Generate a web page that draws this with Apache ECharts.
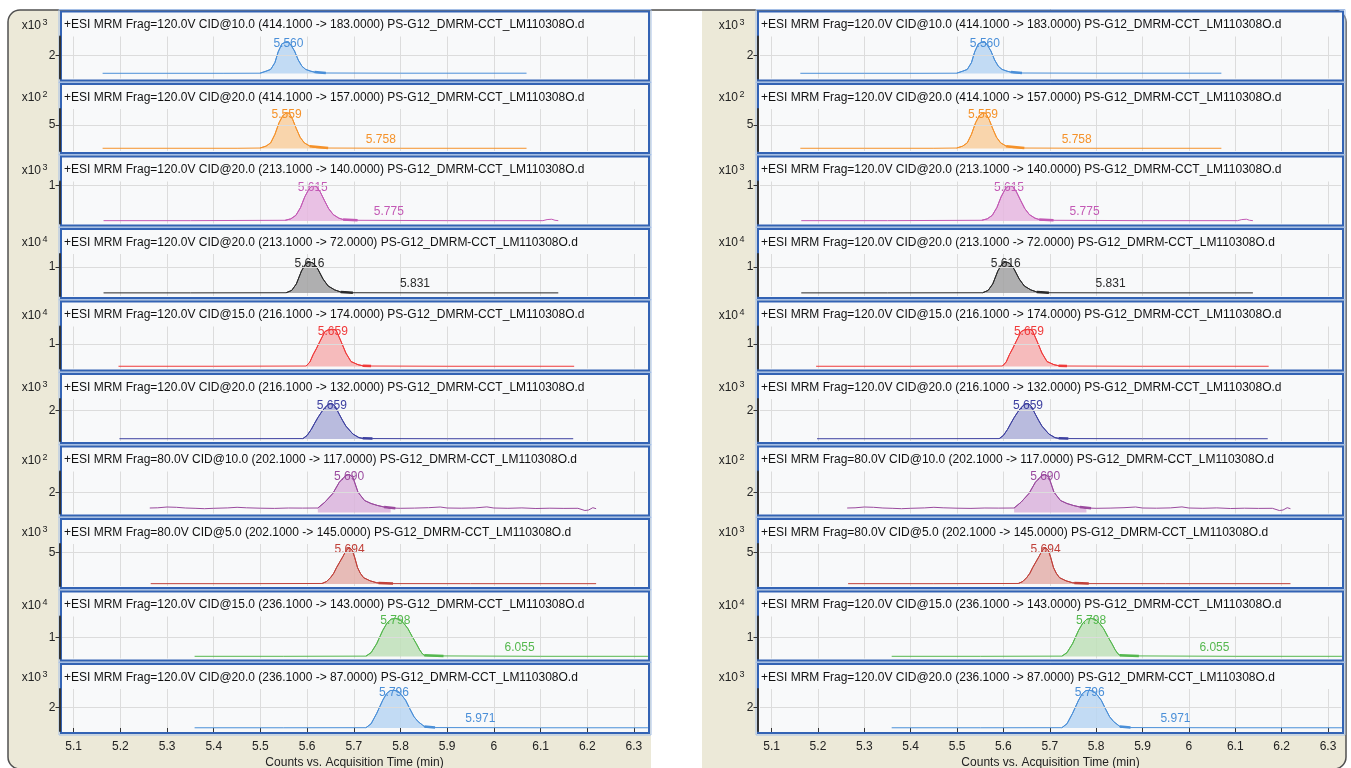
<!DOCTYPE html>
<html>
<head>
<meta charset="utf-8">
<title>MRM chromatograms</title>
<script src="https://cdn.jsdelivr.net/npm/echarts@6/dist/echarts.min.js"></script>
<style>
html, body { margin: 0; padding: 0; background: #fff; }
#main { width: 1351px; height: 768px; }
</style>
</head>
<body>
<div id="main"></div>
<script>
'use strict';

// x axis ticks (min)
var xTicks = [5.1, 5.2, 5.3, 5.4, 5.5, 5.6, 5.7, 5.8, 5.9, 6, 6.1, 6.2, 6.3];

var titles = [
    '+ESI MRM Frag=120.0V CID@10.0 (414.1000 -> 183.0000) PS-G12_DMRM-CCT_LM110308O.d',
    '+ESI MRM Frag=120.0V CID@20.0 (414.1000 -> 157.0000) PS-G12_DMRM-CCT_LM110308O.d',
    '+ESI MRM Frag=120.0V CID@20.0 (213.1000 -> 140.0000) PS-G12_DMRM-CCT_LM110308O.d',
    '+ESI MRM Frag=120.0V CID@20.0 (213.1000 -> 72.0000) PS-G12_DMRM-CCT_LM110308O.d',
    '+ESI MRM Frag=120.0V CID@15.0 (216.1000 -> 174.0000) PS-G12_DMRM-CCT_LM110308O.d',
    '+ESI MRM Frag=120.0V CID@20.0 (216.1000 -> 132.0000) PS-G12_DMRM-CCT_LM110308O.d',
    '+ESI MRM Frag=80.0V CID@10.0 (202.1000 -> 117.0000) PS-G12_DMRM-CCT_LM110308O.d',
    '+ESI MRM Frag=80.0V CID@5.0 (202.1000 -> 145.0000) PS-G12_DMRM-CCT_LM110308O.d',
    '+ESI MRM Frag=120.0V CID@15.0 (236.1000 -> 143.0000) PS-G12_DMRM-CCT_LM110308O.d',
    '+ESI MRM Frag=120.0V CID@20.0 (236.1000 -> 87.0000) PS-G12_DMRM-CCT_LM110308O.d'
];

// counts multiplier (x10^n) and the one labelled y tick of every trace
var exps = [3, 2, 3, 4, 4, 3, 2, 3, 4, 3];
var yTicks = [2, 5, 1, 1, 1, 2, 2, 5, 1, 2];

var peakRTs = ['5.560', '5.559', '5.615', '5.616', '5.659', '5.659', '5.690', '5.694', '5.798', '5.796'];
var minorRTs = [null, 5.758, 5.775, 5.831, null, null, null, null, 6.055, 5.971];

// [time (min), counts / 10^n]
var mrm1 = [[5.162,0.02],[5.300,0.02],[5.420,0.02],[5.499,0.03],[5.512,0.25],[5.522,0.45],[5.531,1.2],[5.538,2.4],[5.546,3.3],[5.553,3.45],[5.560,3.5],[5.566,3.1],[5.573,2.5],[5.581,1.5],[5.589,0.8],[5.597,0.45],[5.608,0.25],[5.620,0.1],[5.640,0.05],[5.800,0.03],[6.070,0.03]];
var mrm2 = [[5.162,0.05],[5.300,0.05],[5.450,0.05],[5.499,0.1],[5.512,0.5],[5.522,1.2],[5.531,3.0],[5.540,5.5],[5.548,7.0],[5.556,7.6],[5.562,7.5],[5.569,6.2],[5.577,4.2],[5.585,2.4],[5.594,1.2],[5.606,0.5],[5.620,0.2],[5.645,0.1],[5.800,0.05],[6.070,0.05]];
var mrm3 = [[5.164,0.01],[5.350,0.01],[5.553,0.02],[5.565,0.06],[5.576,0.16],[5.586,0.38],[5.595,0.68],[5.604,0.9],[5.612,1.0],[5.620,0.97],[5.628,0.82],[5.637,0.58],[5.646,0.35],[5.656,0.18],[5.668,0.08],[5.680,0.03],[5.708,0.02],[5.900,0.01],[6.105,0.01],[6.114,0.04],[6.124,0.05],[6.131,0.02],[6.138,0.01]];
var mrm4 = [[5.164,0.005],[5.350,0.005],[5.555,0.01],[5.567,0.1],[5.577,0.35],[5.588,0.85],[5.597,1.12],[5.605,1.2],[5.613,1.15],[5.623,0.92],[5.634,0.54],[5.645,0.27],[5.659,0.12],[5.672,0.04],[5.698,0.01],[5.900,0.005],[6.138,0.005]];
var mrm5 = [[5.196,0.01],[5.400,0.01],[5.598,0.02],[5.606,0.2],[5.613,0.53],[5.620,0.8],[5.627,1.1],[5.638,1.55],[5.646,1.64],[5.655,1.66],[5.662,1.62],[5.673,1.1],[5.683,0.6],[5.694,0.22],[5.709,0.08],[5.720,0.03],[5.737,0.02],[5.900,0.01],[6.172,0.01]];
var mrm6 = [[5.198,0.02],[5.400,0.02],[5.591,0.03],[5.600,0.25],[5.609,0.68],[5.616,1.1],[5.623,1.5],[5.631,1.9],[5.638,2.2],[5.646,2.45],[5.653,2.5],[5.660,2.3],[5.669,1.73],[5.676,1.3],[5.683,0.91],[5.698,0.35],[5.711,0.1],[5.720,0.04],[5.740,0.03],[5.900,0.02],[6.170,0.02]];
var mrm7 = [[5.263,0.45],[5.280,0.47],[5.300,0.55],[5.320,0.52],[5.340,0.45],[5.360,0.42],[5.380,0.38],[5.400,0.42],[5.430,0.46],[5.450,0.52],[5.470,0.47],[5.500,0.43],[5.530,0.41],[5.560,0.45],[5.590,0.44],[5.623,0.45],[5.638,1.03],[5.655,1.9],[5.669,3.03],[5.683,3.7],[5.690,3.82],[5.698,3.53],[5.709,2.03],[5.723,1.2],[5.737,0.9],[5.751,0.7],[5.765,0.55],[5.779,0.45],[5.800,0.42],[5.830,0.44],[5.860,0.48],[5.885,0.55],[5.900,0.45],[5.930,0.43],[5.960,0.46],[5.985,0.56],[6.000,0.45],[6.030,0.42],[6.060,0.46],[6.090,0.40],[6.120,0.43],[6.150,0.41],[6.180,0.42],[6.195,0.2],[6.203,0.25],[6.212,0.48],[6.219,0.38]];
var mrm8 = [[5.265,0.05],[5.450,0.05],[5.632,0.08],[5.642,0.4],[5.650,1.0],[5.657,1.7],[5.663,2.6],[5.670,3.5],[5.677,4.4],[5.684,5.4],[5.691,5.8],[5.697,5.3],[5.702,4.2],[5.708,2.6],[5.714,1.7],[5.721,1.0],[5.735,0.5],[5.749,0.2],[5.765,0.08],[5.784,0.06],[5.950,0.05],[6.219,0.05]];
var mrm9 = [[5.359,0.01],[5.550,0.01],[5.726,0.02],[5.737,0.2],[5.749,0.67],[5.762,1.37],[5.771,1.75],[5.780,1.96],[5.789,2.0],[5.798,1.95],[5.807,1.75],[5.816,1.46],[5.825,1.05],[5.834,0.67],[5.841,0.35],[5.847,0.14],[5.852,0.05],[5.892,0.03],[6.100,0.01],[6.330,0.01]];
var mrm10 = [[5.359,0.02],[5.550,0.02],[5.726,0.03],[5.737,0.4],[5.749,1.4],[5.762,2.67],[5.770,3.3],[5.778,3.6],[5.786,3.62],[5.794,3.55],[5.802,3.2],[5.811,2.67],[5.820,1.85],[5.829,1.08],[5.838,0.6],[5.847,0.29],[5.853,0.08],[5.874,0.04],[6.100,0.02],[6.330,0.02]];
var traces = [mrm1, mrm2, mrm3, mrm4, mrm5, mrm6, mrm7, mrm8, mrm9, mrm10];

// integrated peak region and the integration-end marker
var peakSpans = [[5.499,5.640],[5.499,5.645],[5.553,5.708],[5.555,5.698],[5.598,5.737],[5.591,5.740],[5.623,5.779],[5.632,5.784],[5.726,5.892],[5.726,5.874]];
var integEnds = [[5.616,5.640],[5.606,5.645],[5.677,5.708],[5.672,5.698],[5.719,5.737],[5.719,5.740],[5.765,5.789],[5.753,5.784],[5.851,5.892],[5.851,5.874]];

var lineColors = ['#4a8fd8', '#f5922a', '#c359b5', '#2a2a2a', '#f03a3a', '#3d40a0', '#9a4a9e', '#c0413a', '#55b84e', '#4a8fd8'];
var fillColors = ['#b9d6f2', '#f9cf9e', '#e6b7df', '#a2a2a2', '#f6b0b0', '#aeb0d8', '#dab4dc', '#e4b0aa', '#bfe0b8', '#b9d6f2'];

// axis ranges, chosen so baselines and ticks sit where the original has them
var yMins = [-0.56, -0.53, -0.07, -0.115, -0.09, -0.14, -0.1, -0.32, -0.105, -0.29];
var yMaxs = [4.11, 8.4, 1.11, 1.5, 1.78, 2.81, 4.1, 6.35, 2.1, 3.75];

var FONT = '"Liberation Sans", Arial, sans-serif';
var panels = [
    { frameX: 61, frameW: 588, gridX: 62, gridW: 585 },
    { frameX: 758, frameW: 585, gridX: 760, gridW: 581 }
];

function valueAt(tr, t) {
    for (var j = 1; j < tr.length; j++) {
        if (tr[j][0] >= t) {
            var a = tr[j - 1], b = tr[j];
            return a[1] + (b[1] - a[1]) * (t - a[0]) / (b[0] - a[0]);
        }
    }
    return tr[tr.length - 1][1];
}

var myChart = echarts.init(document.getElementById('main'));

var grids = [], xAxes = [], yAxes = [], series = [];
var graphics = [
    { type: 'rect', z: -10, shape: { x: 8, y: 10, width: 1338, height: 759, r: 12 },
      style: { fill: '#ece9d8', stroke: '#505050', lineWidth: 1.5 } },
    { type: 'rect', z: -9, shape: { x: 651, y: 11, width: 51, height: 800 }, style: { fill: '#ffffff' } }
];

panels.forEach(function (pan, p) {
    for (var i = 0; i < 10; i++) {
        var k = p * 10 + i;
        var top = 11.5 + i * 72.5;
        var last = i === 9;

        graphics.push({ type: 'rect', z: -5, shape: { x: pan.frameX, y: top, width: pan.frameW, height: 69 },
            style: { fill: '#f8f9fa' } });
        graphics.push({ type: 'rect', z: 49, shape: { x: pan.frameX - 2, y: top - 2, width: pan.frameW + 4, height: 73 },
            style: { fill: 'none', stroke: '#a5bfe6', lineWidth: 1 } });
        graphics.push({ type: 'rect', z: 50, shape: { x: pan.frameX, y: top, width: pan.frameW, height: 69 },
            style: { fill: 'none', stroke: '#3363b4', lineWidth: 2 } });
        graphics.push({ type: 'text', z: 51, x: pan.frameX + 3, y: top + 13.5,
            style: { text: titles[i], font: '12px ' + FONT, fill: '#111',
                     align: 'left', verticalAlign: 'middle', textAlign: 'left', textVerticalAlign: 'middle' } });
        graphics.push({ type: 'text', z: 51, x: pan.frameX - 20, y: top + 14,
            style: { text: 'x10', font: '12px ' + FONT, fill: '#222',
                     align: 'right', verticalAlign: 'middle', textAlign: 'right', textVerticalAlign: 'middle' } });
        graphics.push({ type: 'text', z: 51, x: pan.frameX - 18.5, y: top + 11,
            style: { text: String(exps[i]), font: '9px ' + FONT, fill: '#222',
                     align: 'left', verticalAlign: 'middle', textAlign: 'left', textVerticalAlign: 'middle' } });

        grids.push({ left: pan.gridX, top: top + 25, width: pan.gridW, height: 42, outerBoundsMode: 'none' });

        xAxes.push({
            type: 'value', gridIndex: k, min: 5.075, max: 6.328,
            axisLine: { show: false },
            axisTick: { show: last, customValues: xTicks, length: 4, lineStyle: { color: '#333' } },
            axisLabel: { show: last, customValues: xTicks, margin: 10, fontSize: 12, color: '#222', fontFamily: FONT },
            splitLine: { show: true, lineStyle: { color: '#dcdcdc', width: 1 } },
            name: last ? 'Counts vs. Acquisition Time (min)' : '',
            nameLocation: 'middle', nameGap: 26,
            nameTextStyle: { fontSize: 12, color: '#222', fontFamily: FONT }
        });

        yAxes.push({
            type: 'value', gridIndex: k, min: yMins[i], max: yMaxs[i],
            offset: 2.5, z: 60,
            axisLine: { show: true, onZero: false, lineStyle: { color: '#333', width: 2 } },
            axisTick: { show: true, customValues: [yTicks[i]], length: 4, lineStyle: { color: '#333' } },
            axisLabel: { customValues: [yTicks[i]], margin: 4, fontSize: 12, color: '#222', fontFamily: FONT },
            splitLine: { show: true, lineStyle: { color: '#dcdcdc', width: 1 } }
        });

        var tr = traces[i];
        var span = peakSpans[i];
        var seg = integEnds[i];

        var marks = [{ type: 'max', label: { formatter: peakRTs[i], offset: [0, 2] } }];
        if (minorRTs[i] !== null) {
            marks.push({ coord: [minorRTs[i], valueAt(tr, minorRTs[i])],
                         label: { formatter: minorRTs[i].toFixed(3), offset: [0, -9] } });
        }

        series.push({
            type: 'line', xAxisIndex: k, yAxisIndex: k, z: 2,
            data: tr.filter(function (pt) { return pt[0] >= span[0] && pt[0] <= span[1]; }),
            symbol: 'none', silent: true,
            lineStyle: { color: lineColors[i], width: 1 },
            areaStyle: { color: fillColors[i], opacity: 0.85 }
        });
        series.push({
            type: 'line', xAxisIndex: k, yAxisIndex: k, z: 3,
            data: tr, symbol: 'none', silent: true,
            lineStyle: { color: lineColors[i], width: 1 },
            markPoint: {
                symbol: 'rect', symbolSize: 1, silent: true,
                itemStyle: { color: 'transparent' },
                label: { show: true, position: 'inside', color: lineColors[i], fontSize: 12, fontFamily: FONT },
                data: marks
            }
        });
        series.push({
            type: 'line', xAxisIndex: k, yAxisIndex: k, z: 4,
            data: [[seg[0], valueAt(tr, seg[0])], [seg[1], valueAt(tr, seg[1])]],
            symbol: 'none', silent: true,
            lineStyle: { color: lineColors[i], width: 2.5 }
        });
    }
});

myChart.setOption({
    animation: false,
    backgroundColor: '#ffffff',
    textStyle: { fontFamily: FONT },
    grid: grids,
    xAxis: xAxes,
    yAxis: yAxes,
    series: series,
    graphic: { elements: graphics }
});
</script>
</body>
</html>
